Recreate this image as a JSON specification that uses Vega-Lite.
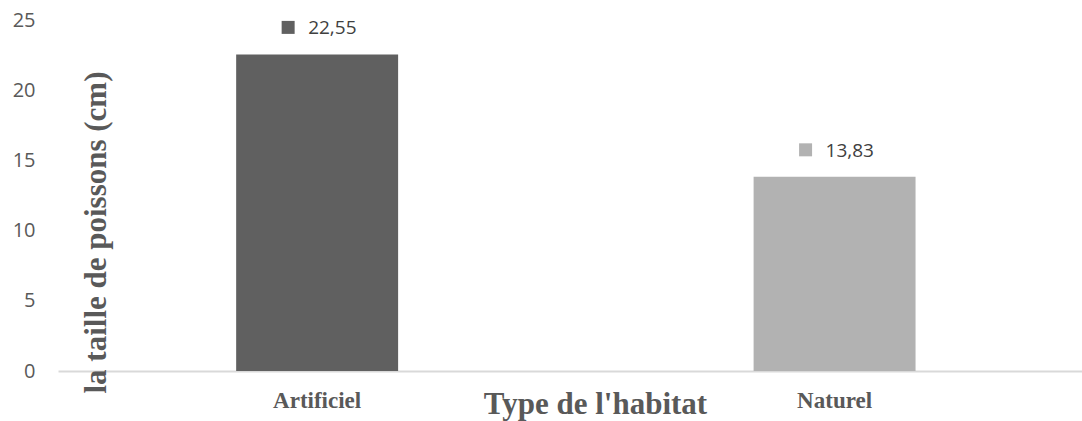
{
  "$schema": "https://vega.github.io/schema/vega-lite/v6.json",
  "width": 1024,
  "height": 351,
  "autosize": {"type": "none"},
  "padding": {"left": 58, "top": 20, "right": 0, "bottom": 50},
  "background": "white",
  "config": {"view": {"stroke": null}},
  "data": {"values": [
    {"habitat": "Artificiel", "taille": 22.55, "label": "22,55"},
    {"habitat": "Naturel", "taille": 13.83, "label": "13,83"}
  ]},
  "encoding": {
    "x": {
      "field": "habitat", "type": "nominal", "sort": null,
      "scale": {"paddingInner": 0.687, "paddingOuter": 0.333, "align": 0.517},
      "axis": {
        "title": "Type de l'habitat",
        "titleFont": "Liberation Serif", "titleFontWeight": "bold", "titleFontSize": 31,
        "titleColor": "#595959", "titleBaseline": "alphabetic",
        "titleX": 537, "titleY": 42, "titleAnchor": null, "titleAlign": "center",
        "labelFont": "Liberation Serif", "labelFontWeight": "bold", "labelFontSize": 23,
        "labelColor": "#595959", "labelAngle": 0, "labelBaseline": "alphabetic",
        "labelPadding": 36, "ticks": false, "tickSize": 0,
        "domainColor": "#d9d9d9", "domainWidth": 2, "grid": false
      }
    },
    "y": {
      "field": "taille", "type": "quantitative",
      "scale": {"domain": [0, 25], "nice": false},
      "axis": {
        "values": [0, 5, 10, 15, 20, 25],
        "title": "la taille de poissons (cm)",
        "titleFont": "Liberation Serif", "titleFontWeight": "bold", "titleFontSize": 31,
        "titleColor": "#595959", "titleAngle": -90, "titleBaseline": "alphabetic",
        "titleX": 47, "titleY": 212, "titleAnchor": null, "titleAlign": "center",
        "labelFont": "Open Sans", "labelFontSize": 20, "labelColor": "#595959",
        "labelPadding": 23, "ticks": false, "tickSize": 0, "domain": false, "grid": false
      }
    },
    "color": {
      "field": "habitat", "type": "nominal",
      "scale": {"domain": ["Artificiel", "Naturel"], "range": ["#606060", "#b2b2b2"]},
      "legend": null
    }
  },
  "layer": [
    {"mark": {"type": "bar"}},
    {"mark": {"type": "point", "shape": "square", "filled": true, "size": 169, "opacity": 1, "xOffset": -29, "yOffset": -27}},
    {"mark": {"type": "text", "align": "left", "baseline": "middle", "font": "Open Sans", "fontSize": 19, "xOffset": -9, "yOffset": -26, "fill": "#404040"},
     "encoding": {"text": {"field": "label"}, "color": {"value": "#404040"}}}
  ]
}
